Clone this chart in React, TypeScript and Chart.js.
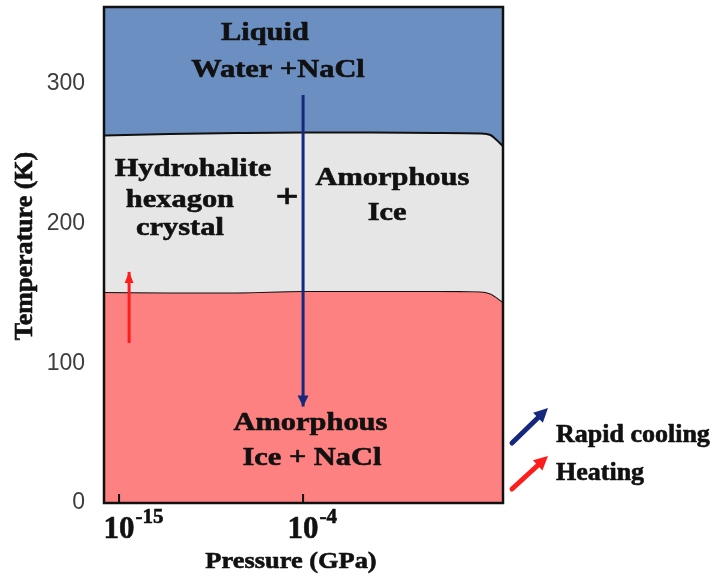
import React, { useEffect, useRef } from 'react';
import { Chart, registerables } from 'chart.js';

Chart.register(...registerables);

// ---------------- data ----------------
// x positions: log10 of pressure in GPa
const boundaryPressureExp = [-15.9, -12, -8, -4, 0, 4, 6.6, 7.2, 7.5, 7.95];
// Liquid / (Hydrohalite + Amorphous ice) boundary, K
const liquidBoundaryK = [263.0, 264.1, 264.8, 265.2, 265.2, 264.8, 264.5, 263.4, 260.5, 255.5];
// (Hydrohalite + Amorphous ice) / (Amorphous ice + NaCl) boundary, K
const amorphousBoundaryK = [151.0, 150.7, 150.7, 151.7, 151.7, 151.7, 151.4, 149.9, 147.8, 143.9];

// Process arrows
const coolingPressureExp = [-4, -4];
const coolingK = [292, 69];
const heatingPressureExp = [-14.4, -14.4];
const heatingK = [114.5, 165.4];

// Axes
const xTickExponents = [-15, -4];
const yTickValues = [0, 100, 200, 300];
const xMinExp = -15.9;
const xMaxExp = 7.95;
const yMin = 0;
const yMax = 355;

// Region labels (anchored in data coordinates)
const regionLabels = [
  { text: 'Liquid', exp: -6.28, k: 331.7 },
  { text: 'Water +NaCl', exp: -5.5, k: 304.9 },
  { text: 'Hydrohalite', exp: -10.58, k: 234.4 },
  { text: 'hexagon', exp: -11.36, k: 211.9 },
  { text: 'crystal', exp: -11.36, k: 191.8 },
  { text: '+', exp: -4.96, k: 211.5, size: 34 },
  { text: 'Amorphous', exp: 1.34, k: 227.6 },
  { text: 'Ice', exp: 1.02, k: 202.6 },
  { text: 'Amorphous', exp: -3.56, k: 51.9 },
  { text: 'Ice + NaCl', exp: -3.47, k: 27.2 },
];

const xTitle = 'Pressure (GPa)';
const yTitle = 'Temperature (K)';

// ---------------- styles ----------------
const SERIF = '"Liberation Serif", "Times New Roman", serif';
const INK = '#111111';
const BLUE_REGION = '#6c8fc1';
const GRAY_REGION = '#e6e6e6';
const RED_REGION = '#fd8181';
const NAVY = '#15287e';
const RED = '#ff1c1c';

const toPts = (exps: number[], ks: number[]) =>
  exps.map((e, i) => ({ x: Math.pow(10, e), y: ks[i] }));

function drawText(
  ctx: CanvasRenderingContext2D,
  text: string,
  x: number,
  y: number,
  size: number,
  sx: number,
  align: CanvasTextAlign = 'center',
  rotate = 0,
) {
  ctx.save();
  ctx.translate(x, y);
  if (rotate) ctx.rotate(rotate);
  ctx.scale(sx, 1);
  ctx.font = `bold ${size}px ${SERIF}`;
  ctx.textAlign = align;
  ctx.textBaseline = 'alphabetic';
  ctx.fillStyle = INK;
  ctx.strokeStyle = INK;
  ctx.lineWidth = 0.6;
  ctx.lineJoin = 'round';
  ctx.fillText(text, 0, 0);
  ctx.strokeText(text, 0, 0);
  ctx.restore();
}

function drawArrowHead(
  ctx: CanvasRenderingContext2D,
  x0: number,
  y0: number,
  x1: number,
  y1: number,
  len: number,
  half: number,
  color: string,
) {
  const a = Math.atan2(y1 - y0, x1 - x0);
  const bx = x1 - len * Math.cos(a);
  const by = y1 - len * Math.sin(a);
  ctx.save();
  ctx.fillStyle = color;
  ctx.beginPath();
  ctx.moveTo(x1, y1);
  ctx.lineTo(bx - half * Math.sin(a), by + half * Math.cos(a));
  ctx.lineTo(bx + half * Math.sin(a), by - half * Math.cos(a));
  ctx.closePath();
  ctx.fill();
  ctx.restore();
}

// legend arrow geometry (offsets from the label baseline), per entry
const legendArrowGeom = [
  { dy0: 1, dy1: -34 },
  { dy0: 9, dy1: -24 },
];

const decorPlugin = {
  id: 'phaseDecor',
  afterDraw(chart: any) {
    const ctx: CanvasRenderingContext2D = chart.ctx;
    const ca = chart.chartArea;
    const xs = chart.scales.x;
    const ys = chart.scales.y;

    // arrow heads on process lines
    chart.data.datasets.forEach((ds: any, i: number) => {
      if (!ds.arrowHead) return;
      const pts = chart.getDatasetMeta(i).data;
      const p0 = pts[pts.length - 2];
      const p1 = pts[pts.length - 1];
      drawArrowHead(ctx, p0.x, p0.y, p1.x, p1.y, ds.arrowHead.len, ds.arrowHead.half, ds.borderColor);
    });

    // plot frame
    ctx.save();
    ctx.strokeStyle = INK;
    ctx.lineWidth = 2.5;
    ctx.strokeRect(ca.left, ca.top, ca.right - ca.left, ca.bottom - ca.top);
    ctx.restore();

    // x tick marks (inside) and 10^n labels
    xs.ticks.forEach((t: any) => {
      const px = xs.getPixelForValue(t.value);
      ctx.save();
      ctx.strokeStyle = INK;
      ctx.lineWidth = 2;
      ctx.beginPath();
      ctx.moveTo(px, ca.bottom);
      ctx.lineTo(px, ca.bottom - 9);
      ctx.stroke();
      ctx.restore();
      const exp = Math.round(Math.log10(t.value));
      ctx.save();
      ctx.font = `bold 31px ${SERIF}`;
      const w = ctx.measureText('10').width;
      ctx.restore();
      drawText(ctx, '10', px, ca.bottom + 35, 31, 1, 'center');
      drawText(ctx, (exp < 0 ? '-' : '') + Math.abs(exp), px + w / 2 + 1, ca.bottom + 20, 21, 1, 'left');
    });

    // axis titles
    drawText(ctx, xTitle, ca.left + 187, ca.bottom + 65, 24, 1.1, 'center');
    drawText(ctx, yTitle, 31.5, 246, 26, 1, 'center', -Math.PI / 2);

    // region labels
    regionLabels.forEach((l: any) => {
      const px = xs.getPixelForValue(Math.pow(10, l.exp));
      const py = ys.getPixelForValue(l.k);
      drawText(ctx, l.text, px, py, l.size || 26, l.size ? 1.2 : 1.17, 'center');
    });

    // custom legend (process arrows)
    const legendSets = chart.data.datasets.filter((d: any) => d.arrowHead);
    legendSets.forEach((ds: any, i: number) => {
      const base = 442 + i * 38;
      const g = legendArrowGeom[i] || legendArrowGeom[0];
      const x0 = ca.right + 9;
      const y0 = base + g.dy0;
      const x1 = ca.right + 45;
      const y1 = base + g.dy1;
      ctx.save();
      ctx.strokeStyle = ds.borderColor;
      ctx.lineWidth = 5;
      ctx.lineCap = 'round';
      ctx.beginPath();
      ctx.moveTo(x0, y0);
      const a = Math.atan2(y1 - y0, x1 - x0);
      ctx.lineTo(x1 - 10 * Math.cos(a), y1 - 10 * Math.sin(a));
      ctx.stroke();
      ctx.restore();
      drawArrowHead(ctx, x0, y0, x1, y1, 14, 7, ds.borderColor);
      drawText(ctx, ds.label, ca.right + 53, base, 25, 1.04, 'left');
    });
  },
};

export default function App() {
  const ref = useRef<HTMLCanvasElement | null>(null);

  useEffect(() => {
    if (!ref.current) return;
    const chart = new Chart(ref.current, {
      type: 'line',
      data: {
        datasets: [
          {
            label: 'Rapid cooling',
            data: toPts(coolingPressureExp, coolingK),
            borderColor: NAVY,
            borderWidth: 3,
            fill: false,
            pointRadius: 0,
            arrowHead: { len: 11, half: 5.5 },
          } as any,
          {
            label: 'Heating',
            data: toPts(heatingPressureExp, heatingK),
            borderColor: RED,
            borderWidth: 3,
            fill: false,
            pointRadius: 0,
            arrowHead: { len: 11, half: 4.5 },
          } as any,
          {
            label: 'Liquid Water + NaCl',
            data: toPts(boundaryPressureExp, liquidBoundaryK),
            borderColor: INK,
            borderWidth: 2,
            backgroundColor: BLUE_REGION,
            fill: 'end',
            pointRadius: 0,
            cubicInterpolationMode: 'monotone',
          },
          {
            label: 'Hydrohalite hexagon crystal + Amorphous Ice',
            data: toPts(boundaryPressureExp, liquidBoundaryK),
            borderColor: 'rgba(0,0,0,0)',
            borderWidth: 0,
            backgroundColor: GRAY_REGION,
            fill: '+1',
            pointRadius: 0,
            cubicInterpolationMode: 'monotone',
          },
          {
            label: 'Amorphous Ice + NaCl',
            data: toPts(boundaryPressureExp, amorphousBoundaryK),
            borderColor: INK,
            borderWidth: 2,
            backgroundColor: RED_REGION,
            fill: 'start',
            pointRadius: 0,
            cubicInterpolationMode: 'monotone',
          },
        ],
      },
      options: {
        responsive: false,
        animation: false,
        events: [],
        layout: { padding: { top: 7, right: 214, left: 0, bottom: 0 } },
        plugins: {
          legend: { display: false },
          tooltip: { enabled: false },
          title: { display: false },
        },
        scales: {
          x: {
            type: 'logarithmic',
            min: Math.pow(10, xMinExp),
            max: Math.pow(10, xMaxExp),
            grid: { display: false, drawTicks: false },
            border: { display: false },
            ticks: { display: false },
            afterBuildTicks: (s: any) => {
              s.ticks = xTickExponents.map((e) => ({ value: Math.pow(10, e) }));
            },
            afterFit: (s: any) => {
              s.height = 73;
              s.paddingLeft = 0;
              s.paddingRight = 0;
              s.paddingTop = 0;
              s.paddingBottom = 0;
            },
          },
          y: {
            type: 'linear',
            min: yMin,
            max: yMax,
            grid: { display: false, drawTicks: false },
            border: { display: false },
            ticks: {
              padding: 19,
              color: '#3d3d3d',
              font: { family: '"Liberation Sans", Arial, sans-serif', size: 23 },
            },
            afterBuildTicks: (s: any) => {
              s.ticks = yTickValues.map((v) => ({ value: v }));
            },
            afterFit: (s: any) => {
              s.width = 104;
              s.paddingLeft = 0;
              s.paddingRight = 0;
              s.paddingTop = 0;
              s.paddingBottom = 0;
            },
          },
        },
      } as any,
      plugins: [decorPlugin],
    });
    return () => chart.destroy();
  }, []);

  return (
    <div style={{ position: 'fixed', left: 0, top: 0, width: 717, height: 576, background: '#ffffff' }}>
      <canvas ref={ref} width={717} height={576} style={{ display: 'block' }} />
    </div>
  );
}
